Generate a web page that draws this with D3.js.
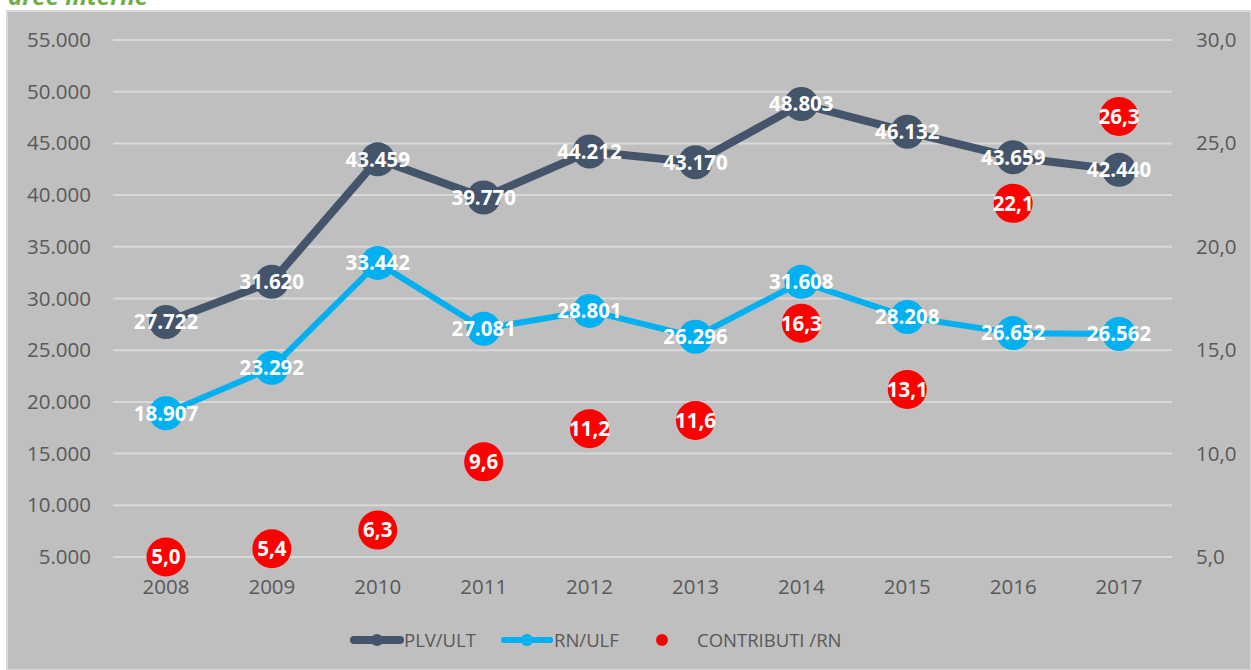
<!DOCTYPE html>
<html>
<head>
<meta charset="utf-8">
<script src="https://cdn.jsdelivr.net/npm/d3@7"></script>
<style>
  html, body { margin: 0; padding: 0; background: #ffffff; }
  svg { display: block; }
</style>
</head>
<body>
<svg id="chart" width="1251" height="670"></svg>
<script>
const years = ["2008","2009","2010","2011","2012","2013","2014","2015","2016","2017"];
const plvUlt = [27722, 31620, 43459, 39770, 44212, 43170, 48803, 46132, 43659, 42440];
const rnUlf = [18907, 23292, 33442, 27081, 28801, 26296, 31608, 28208, 26652, 26562];
const contributiRn = [5.0, 5.4, 6.3, 9.6, 11.2, 11.6, 16.3, 13.1, 22.1, 26.3];
const leftTicks = [5000, 10000, 15000, 20000, 25000, 30000, 35000, 40000, 45000, 50000, 55000];
const rightTicks = [5, 10, 15, 20, 25, 30];
const seriesNames = ["PLV/ULT", "RN/ULF", "CONTRIBUTI /RN"];
const titleText = "aree interne";

const colDark = "#44546a", colBlue = "#00b0f0", colRed = "#ff0000";
const textGray = "#595959";
const font = "'Open Sans', 'Noto Sans', sans-serif";

const svg = d3.select("#chart");
const W = 1251, H = 670;

// title (cut off at top, as in the original)
svg.append("text").attr("x", 8).attr("y", 5)
  .attr("font-family", font).attr("font-size", 24).attr("font-weight", 700)
  .attr("font-style", "italic").attr("fill", "#70ad47").text(titleText);

// panel
svg.append("rect").attr("x", 7).attr("y", 11).attr("width", W - 7).attr("height", H - 11)
  .attr("fill", "#bfbfbf").attr("stroke", "#d9d9d9").attr("stroke-width", 2);

const plot = { left: 113, right: 1172, top: 40, bottom: 557 };

const x = d3.scaleBand().domain(years).range([plot.left, plot.right]);
const yL = d3.scaleLinear().domain([5000, 55000]).range([plot.bottom, plot.top]);
const yR = d3.scaleLinear().domain([5, 30]).range([plot.bottom, plot.top]);
const cx = d => x(d) + x.bandwidth() / 2;

const fmtL = v => d3.format(",")(v).replace(/,/g, ".");
const fmtR = v => d3.format(".1f")(v).replace(".", ",");

// gridlines
svg.append("g").selectAll("line").data(leftTicks).join("line")
  .attr("x1", plot.left).attr("x2", plot.right)
  .attr("y1", d => yL(d)).attr("y2", d => yL(d))
  .attr("stroke", "#d9d9d9").attr("stroke-width", 2);

// left axis
const gL = svg.append("g").attr("transform", `translate(${plot.left},0)`)
  .call(d3.axisLeft(yL).tickValues(leftTicks).tickFormat(fmtL).tickSize(0).tickPadding(22));
gL.select(".domain").remove();
gL.selectAll("text").attr("font-family", font).attr("font-size", 20.5).attr("fill", textGray);

// right axis
const gR = svg.append("g").attr("transform", `translate(${plot.right},0)`)
  .call(d3.axisRight(yR).tickValues(rightTicks).tickFormat(fmtR).tickSize(0).tickPadding(24));
gR.select(".domain").remove();
gR.selectAll("text").attr("font-family", font).attr("font-size", 20.5).attr("fill", textGray);

// x axis
const gX = svg.append("g").attr("transform", `translate(0,${plot.bottom})`)
  .call(d3.axisBottom(x).tickSize(0).tickPadding(22));
gX.select(".domain").remove();
gX.selectAll("text").attr("font-family", font).attr("font-size", 20.5).attr("fill", textGray);

// lines
function drawSeries(vals, color, width, r) {
  const line = d3.line().x((d, i) => cx(years[i])).y(d => yL(d));
  svg.append("path").datum(vals).attr("d", line).attr("fill", "none")
    .attr("stroke", color).attr("stroke-width", width).attr("stroke-linejoin", "round");
  svg.append("g").selectAll("circle").data(vals).join("circle")
    .attr("cx", (d, i) => cx(years[i])).attr("cy", d => yL(d)).attr("r", r).attr("fill", color);
}
drawSeries(plvUlt, colDark, 8, 17);
drawSeries(rnUlf, colBlue, 6, 17);

// red points
svg.append("g").selectAll("circle").data(contributiRn).join("circle")
  .attr("cx", (d, i) => cx(years[i])).attr("cy", d => yR(d)).attr("r", 19.5).attr("fill", colRed);

// labels
function labels(vals, yS, fmt) {
  svg.append("g").selectAll("text").data(vals).join("text")
    .attr("x", (d, i) => cx(years[i])).attr("y", d => yS(d))
    .attr("dy", "0.36em").attr("text-anchor", "middle")
    .attr("font-family", font).attr("font-size", 20.5).attr("font-weight", 700)
    .attr("fill", "#ffffff").text(fmt);
}
labels(plvUlt, yL, fmtL);
labels(rnUlf, yL, fmtL);
labels(contributiRn, yR, fmtR);

// legend
const ly = 640;
const leg = svg.append("g").attr("font-family", font).attr("font-size", 18.5).attr("fill", textGray);
function legLine(x0, color, w, label) {
  leg.append("line").attr("x1", x0 + 2).attr("x2", x0 + 48).attr("y1", ly).attr("y2", ly)
    .attr("stroke", color).attr("stroke-width", w).attr("stroke-linecap", "round");
  leg.append("circle").attr("cx", x0 + 25).attr("cy", ly).attr("r", 6).attr("fill", color);
  leg.append("text").attr("x", x0 + 52).attr("y", ly).attr("dy", "0.36em").text(label);
}
legLine(352, colDark, 8, seriesNames[0]);
legLine(502, colBlue, 6, seriesNames[1]);
leg.append("circle").attr("cx", 662).attr("cy", ly).attr("r", 6).attr("fill", colRed);
leg.append("text").attr("x", 697).attr("y", ly).attr("dy", "0.36em").text(seriesNames[2]);
</script>
</body>
</html>
